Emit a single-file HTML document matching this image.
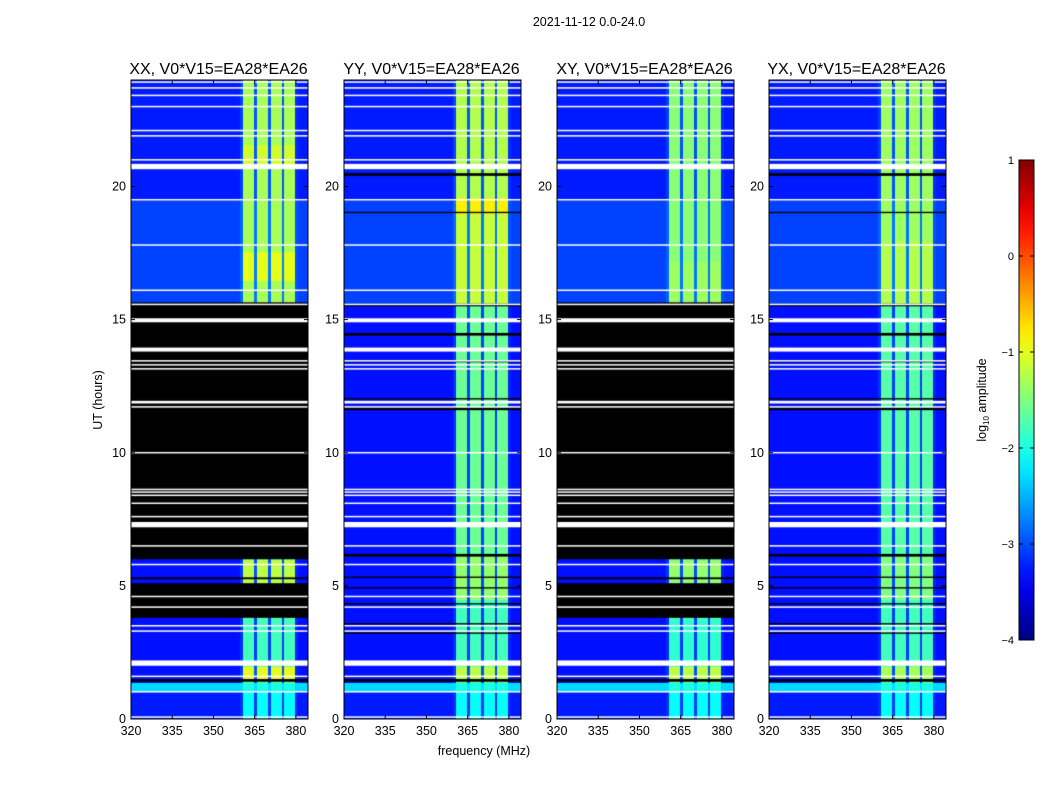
<!DOCTYPE html>
<html><head><meta charset="utf-8"><style>
body{margin:0;background:#fff;width:1050px;height:800px;overflow:hidden;position:relative;font-family:"Liberation Sans",sans-serif}
canvas{position:absolute}
svg{position:absolute;left:0;top:0}
</style></head><body>
<div id="fig"></div>
<svg id="ov" width="1050" height="800"></svg>
<script>
const panelTitles=["XX, V0*V15=EA28*EA26","YY, V0*V15=EA28*EA26","XY, V0*V15=EA28*EA26","YX, V0*V15=EA28*EA26"];
const xTicks=[320,335,350,365,380];
const yTicks=[0,5,10,15,20];
const cbTicks=[1,0,-1,-2,-3,-4];
// frequency profile per 1 MHz bin 320..384 (1=RFI band, 0=background)
const freqBins=[];for(let f=320;f<=384;f++)freqBins.push(f);
const freqWeight=[0,0,0,0,0,0,0,0,0,0,0,0,0,0,0,0,0,0,0,0,0,0,0,0,0,0,0,0,0,0,0,0,0,0,0,0,0,0,0,0,0.1,1,1,1,1,0.15,1,1,1,1,0.15,1,1,1,1,0.15,1,1,1,1,0.05,0,0,0,0];
// background level segments [start,end,log10]
const bgSegs=[[0,1.05,-3.25],[1.05,1.38,-2.3],[1.38,15.6,-3.3],[15.6,19.5,-3.05],[19.5,24,-3.25]];
// band level segments per panel
const bandXX=[[0,1.05,-2.1],[1.05,1.4,-2.0],[1.5,2.0,-1.0],[2.2,3.8,-1.8],[5.1,6.0,-1.2],[15.6,16.5,-1.3],[16.5,17.6,-1.0],[17.6,20.7,-1.3],[20.7,21.6,-1.1],[21.6,24,-1.3]];
const bandYY=[[0,1.05,-2.1],[1.05,1.4,-2.0],[1.5,2.0,-1.2],[2.2,4.5,-1.8],[4.5,6.2,-1.4],[6.2,15.6,-1.6],[15.6,19.0,-1.15],[19.0,19.6,-0.8],[19.6,24,-1.25]];
const bandXY=[[0,1.05,-2.1],[1.05,1.4,-2.0],[1.5,2.0,-1.2],[2.2,3.8,-1.9],[5.1,6.0,-1.4],[15.6,17.2,-1.35],[17.2,24,-1.45]];
const bandYX=[[0,1.05,-2.1],[1.05,1.4,-2.0],[1.5,2.0,-1.3],[2.2,4.5,-1.8],[4.5,6.2,-1.5],[6.2,15.6,-1.7],[15.6,18.0,-1.25],[18.0,24,-1.35]];
// flagged (black) intervals
const flagsCross=[[1.4,1.5],[3.8,5.1],[5.25,5.32],[6.0,15.65]];
const flagsPar=[[1.4,1.5],[3.2,3.25],[3.55,3.6],[4.3,4.35],[4.9,4.95],[5.3,5.35],[6.1,6.2],[11.6,11.7],[12.0,12.05],[13.4,13.45],[14.4,14.5],[15.5,15.6],[19.0,19.05],[20.4,20.5]];
// missing data (white) intervals
const gaps=[[0.05,0.1],[1.0,1.05],[1.6,1.63],[2.0,2.2],[3.3,3.33],[3.5,3.53],[4.2,4.23],[4.6,4.63],[5.8,5.83],[6.5,6.53],[7.2,7.4],[7.6,7.63],[8.1,8.13],[8.4,8.43],[8.5,8.55],[8.6,8.65],[10.0,10.03],[11.7,11.75],[11.85,11.95],[13.15,13.18],[13.3,13.33],[13.45,13.48],[13.8,13.95],[14.9,15.05],[15.55,15.6],[16.1,16.13],[17.8,17.83],[19.5,19.53],[20.65,20.85],[21.0,21.03],[21.9,21.93],[22.1,22.13],[23.0,23.03],[23.4,23.45],[23.7,23.73],[23.9,23.95]];
const panelBands=[bandXX,bandYY,bandXY,bandYX];
const panelFlags=[flagsCross,flagsPar,flagsCross,flagsPar];

const PX=[131,344,557,769],PW=177,PT=80,PB=719;
const fMin=320,fMax=384.4,tMin=0,tMax=24;
function xs(f,i){return PX[i]+(f-fMin)/(fMax-fMin)*PW}
function ys(t){return PB-(t-tMin)/(tMax-tMin)*(PB-PT)}
function jet(v){
  const c=x=>Math.max(0,Math.min(1,x));
  const r=c(1.5-Math.abs(4*v-3)),g=c(1.5-Math.abs(4*v-2)),b=c(1.5-Math.abs(4*v-1));
  return `rgb(${Math.round(r*255)},${Math.round(g*255)},${Math.round(b*255)})`;
}
function cmap(l){return jet((l+4)/5)}
function segVal(segs,t,def){for(const s of segs){if(t>=s[0]&&t<s[1])return s[2]}return def}
const fig=document.getElementById('fig');
const ov=document.getElementById('ov');
const NS='http://www.w3.org/2000/svg';
function mk(tag,attrs,parent){const e=document.createElementNS(NS,tag);for(const k in attrs)e.setAttribute(k,attrs[k]);(parent||ov).appendChild(e);return e}
function txt(x,y,s,size,anchor,parent){const e=mk('text',{x:x,y:y,'font-size':size,'text-anchor':anchor||'middle','font-family':'Liberation Sans, sans-serif',fill:'#000'},parent);e.textContent=s;return e}

for(let i=0;i<4;i++){
  const cv=document.createElement('canvas');
  cv.width=PW;cv.height=PB-PT;cv.style.left=PX[i]+'px';cv.style.top=PT+'px';
  
  
  fig.appendChild(cv);
  const ctx=cv.getContext('2d');
  const dt=0.05;
  for(let t=0;t<24;t+=dt){
    const bg=segVal(bgSegs,t+dt/2,-3.25);
    const band=segVal(panelBands[i],t+dt/2,-1.6);
    for(let k=0;k<freqBins.length;k++){
      const w=freqWeight[k];
      const v=bg+w*(band-bg);
      ctx.fillStyle=cmap(v);
      const x0=xs(freqBins[k],i)-PX[i],x1=xs(freqBins[k]+1,i)-PX[i];
      const y0=ys(t+dt)-PT,y1=ys(t)-PT;
      ctx.fillRect(Math.floor(x0),Math.floor(y0),Math.ceil(x1-x0)+1,Math.ceil(y1-y0)+1);
    }
  }
  ctx.fillStyle='#000';
  for(const f of panelFlags[i]){const y0=ys(f[1])-PT,y1=ys(f[0])-PT;ctx.fillRect(0,y0,PW,y1-y0)}
  ctx.fillStyle='#fff';
  for(const g of gaps){const y0=ys(g[1])-PT,y1=ys(g[0])-PT;ctx.fillRect(0,y0,PW,Math.max(1.5,y1-y0))}

  const g=mk('g',{});
  
  
  mk('rect',{x:PX[i],y:PT,width:PW,height:PB-PT,fill:'none',stroke:'#000','stroke-width':1},g);
  const tt=txt(PX[i]+PW/2-1,74,panelTitles[i],16,'middle',g);
  
  
  for(const f of xTicks){const x=xs(f,i);
    mk('line',{x1:x,y1:PB,x2:x,y2:PB-4,stroke:'#000'},g);
    mk('line',{x1:x,y1:PT,x2:x,y2:PT+4,stroke:'#000'},g);
    const l=txt(x,735,String(f),12.5,'middle',g);
    
    }
  for(const t of yTicks){const y=ys(t);
    mk('line',{x1:PX[i],y1:y,x2:PX[i]+4,y2:y,stroke:'#000'},g);
    mk('line',{x1:PX[i]+PW,y1:y,x2:PX[i]+PW-4,y2:y,stroke:'#000'},g);
    const l=txt(PX[i]-5,y+4,String(t),12.5,'end',g);
    
    }
}
let e=txt(589,26,'2021-11-12 0.0-24.0',12.5);


e=txt(484,755,'frequency (MHz)',12.5);


e=txt(0,0,'UT (hours)',12.5);e.setAttribute('transform','translate(102,400) rotate(-90)');


const CBX=1019,CBW=15,CBT=160,CBB=640;
const defs=mk('defs',{});const lg=mk('linearGradient',{id:'cbg',x1:0,y1:1,x2:0,y2:0},defs);
for(let s=0;s<=20;s++){mk('stop',{offset:s/20,'stop-color':jet(s/20)},lg)}
const cb=mk('g',{});


mk('rect',{x:CBX,y:CBT,width:CBW,height:CBB-CBT,fill:'url(#cbg)',stroke:'#000','stroke-width':1},cb);
for(const v of cbTicks){const y=CBB-(v+4)/5*(CBB-CBT);
  mk('line',{x1:CBX,y1:y,x2:CBX+4,y2:y,stroke:'#000'},cb);
  mk('line',{x1:CBX+CBW,y1:y,x2:CBX+CBW-4,y2:y,stroke:'#000'},cb);
  const l=txt(CBX-5,y+4,(v<0?'\u2212'+(-v):String(v)),11,'end',cb);
  
  }
e=mk('text',{transform:'translate(986,400) rotate(-90)','font-size':12.5,'text-anchor':'middle','font-family':'Liberation Sans, sans-serif'},cb);
e.innerHTML='log<tspan font-size="8" dy="3">10</tspan><tspan dy="-3"> amplitude</tspan>';


</script>
</body></html>
